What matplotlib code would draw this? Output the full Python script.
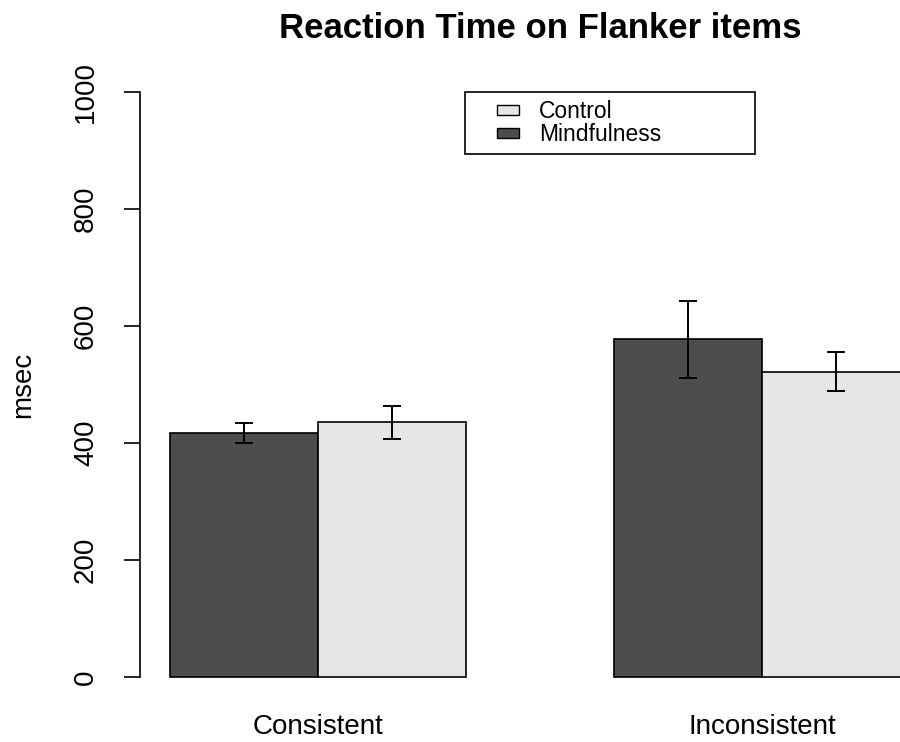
import matplotlib.pyplot as plt
import numpy as np
from matplotlib.legend_handler import HandlerPatch
from matplotlib.patches import Patch, Rectangle

plt.rcParams["font.family"] = ["Liberation Sans", "DejaVu Sans"]

conditions = ["Consistent", "Inconsistent"]
groups = ["Mindfulness", "Control"]
mindfulness_mean = [417, 577]
mindfulness_err = [17, 66]
control_mean = [435, 522]
control_err = [28, 34]
y_ticks = [0, 200, 400, 600, 800, 1000]

dark = "#4d4d4d"
light = "#e6e6e6"


def right_patch(legend, orig_handle, xdescent, ydescent, width, height, fontsize):
    # small box at the right end of the handle area, like R's legend
    w, h = 0.95 * fontsize, 0.44 * fontsize
    return Rectangle((-xdescent + width - w, -ydescent + (height - h) / 2), w, h)


fig = plt.figure(figsize=(9, 7.42), dpi=100)
ax = fig.add_axes([140 / 900, 0.0561, 800 / 900, 0.8515])

centers = np.arange(len(conditions)) * 3 + 2
x_m = centers - 0.5
x_c = centers + 0.5

ax.bar(x_m, mindfulness_mean, width=1, color=dark, edgecolor="black", linewidth=1.2)
ax.bar(x_c, control_mean, width=1, color=light, edgecolor="black", linewidth=1.2)
ax.errorbar(x_m, mindfulness_mean, yerr=mindfulness_err, fmt="none", ecolor="black",
            elinewidth=1.4, capsize=6.5, capthick=1.4)
ax.errorbar(x_c, control_mean, yerr=control_err, fmt="none", ecolor="black",
            elinewidth=1.4, capsize=6.5, capthick=1.4)

ax.set_xlim(0.8, 6.2)
ax.set_ylim(-40, 1040)
for s in ["top", "right", "bottom"]:
    ax.spines[s].set_visible(False)
ax.spines["left"].set_bounds(0, 1000)
ax.spines["left"].set_linewidth(1.2)

ax.set_yticks(y_ticks)
ax.set_yticklabels([str(v) for v in y_ticks], rotation=90, va="center", fontsize=20)
ax.tick_params(axis="y", length=11.5, width=1.2, pad=18)
ax.set_xticks(centers)
ax.set_xticklabels(conditions, fontsize=20)
ax.tick_params(axis="x", length=0, pad=10)
ax.set_ylabel("msec", fontsize=20)
ax.yaxis.set_label_coords(-0.130, 0.5)

fig.text(540 / 900, 1 - 29 / 742, "Reaction Time on Flanker items",
         ha="center", va="center", fontsize=25, fontweight="bold")

handles = [Patch(facecolor=light, edgecolor="black"), Patch(facecolor=dark, edgecolor="black")]
hm = {h: HandlerPatch(patch_func=right_patch) for h in handles}
leg = ax.legend(handles, ["Control", "Mindfulness"], loc="upper left",
                bbox_to_anchor=(0.406, 0.868, 0.3625, 0.095), mode="expand",
                borderaxespad=0, fancybox=False, edgecolor="black", framealpha=1,
                fontsize=16.5, borderpad=0.35, labelspacing=0.0, handlelength=2.0,
                handletextpad=0.9, handler_map=hm)
leg.get_frame().set_linewidth(1.2)

fig.savefig("out.png", dpi=100)
